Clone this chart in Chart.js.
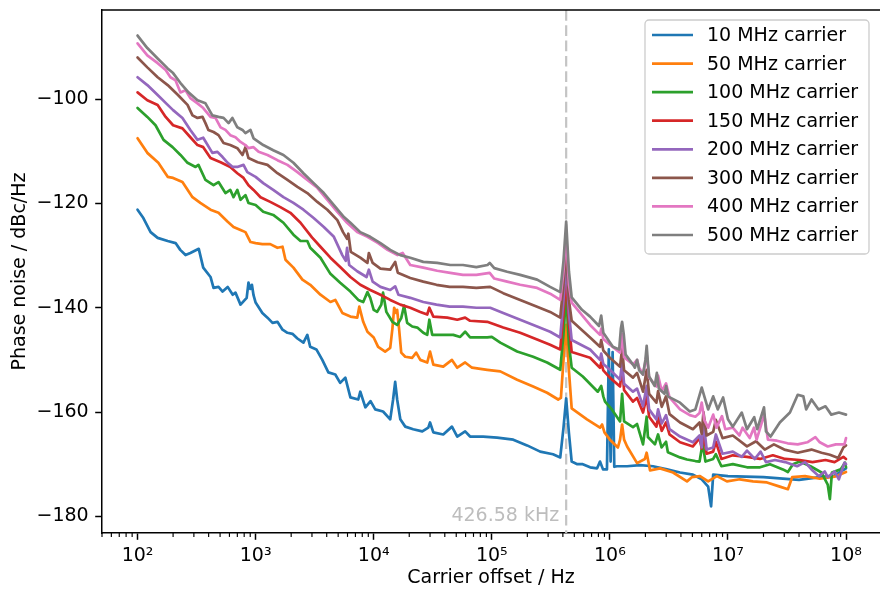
<!DOCTYPE html>
<html>
<head>
<meta charset="utf-8">
<title>Phase noise vs carrier offset</title>
<script src="https://cdn.jsdelivr.net/npm/chart.js@4.4.1/dist/chart.umd.min.js"></script>
<style>
  html, body { margin: 0; padding: 0; background: #fff; }
  #wrap { width: 880px; height: 591px; }
</style>
</head>
<body>
<div id="wrap"><canvas id="pnChart" width="880" height="591"></canvas></div>
<script>
// ---- data: [offset Hz, phase noise dBc/Hz] ----
const carrier10 = [[100,-121.2],[112,-122.8],[129,-125.5],[148,-126.6],[180,-127.2],[210,-127.6],[230,-128.9],[255,-129.9],[280,-129.5],[330,-128.7],
  [360,-132.3],[415,-134.1],[440,-136.2],[485,-136.0],[525,-136.9],[580,-136.0],[640,-137.5],[675,-137.1],[745,-139.4],[840,-138.1],
  [870,-135.2],[900,-136.4],[930,-135.6],[960,-137.6],[1000,-139.0],[1140,-141.0],[1260,-141.9],[1390,-142.9],[1530,-142.7],[1690,-144.2],
  [1860,-144.8],[2050,-145.0],[2260,-145.9],[2540,-146.7],[2740,-145.2],[2900,-147.5],[3270,-148.0],[3670,-150.0],[4130,-152.4],[4730,-152.8],
  [5200,-154.4],[5750,-153.4],[6350,-157.2],[7400,-157.6],[7700,-156.1],[8500,-159.1],[9400,-157.9],[10300,-159.5],[12000,-159.9],[13800,-161.4],
  [14600,-157.6],[15200,-154.2],[15800,-157.6],[16800,-161.4],[18500,-162.8],[21600,-163.3],[25800,-163.7],[29000,-163.0],[30000,-162.0],[32000,-163.9],
  [38800,-164.3],[46000,-162.8],[51000,-164.7],[59500,-163.7],[65500,-164.7],[84500,-164.7],[111000,-164.9],[152000,-165.3],[199000,-166.4],[257000,-167.6],
  [330000,-168.1],[380000,-168.7],[405000,-163.0],[426580,-157.4],[450000,-164.0],[475000,-169.5],[530000,-170.0],[590000,-170.0],[680000,-170.6],[780000,-170.8],
  [825000,-169.5],[875000,-171.0],[945000,-171.0],[980000,-148.0],[1015000,-169.5],[1055000,-148.5],[1090000,-170.5],[1150000,-170.4],[1400000,-170.4],[1800000,-170.2],
  [2320000,-170.4],[3050000,-171.0],[3930000,-171.6],[5050000,-172.0],[6000000,-172.9],[6800000,-174.3],[7200000,-178.1],[7500000,-172.0],[1e7,-172.3],[2e7,-172.5],
  [4e7,-173.0],[6e7,-172.5],[8e7,-172.2],[1e8,-170.8]];

const carrier50 = [[100,-107.5],[121,-110.3],[150,-112.2],[180,-114.9],[200,-115.1],[240,-115.9],[292,-118.8],[340,-119.9],[415,-121.2],[485,-121.8],
  [580,-123.5],[650,-124.5],[745,-125.1],[820,-125.5],[905,-127.4],[1000,-127.6],[1140,-127.8],[1330,-127.8],[1530,-128.5],[1690,-128.3],
  [1790,-130.8],[2090,-132.3],[2490,-134.6],[2900,-135.6],[3540,-137.5],[4300,-138.9],[4730,-138.5],[5420,-141.0],[6350,-141.7],[7250,-141.9],
  [7550,-139.8],[8150,-142.7],[8850,-144.6],[10000,-145.7],[10900,-147.5],[12500,-148.4],[13800,-147.7],[14400,-144.0],[14900,-140.0],[15500,-141.0],
  [15800,-140.4],[16400,-144.0],[17100,-148.6],[18500,-149.4],[21200,-149.6],[22900,-148.6],[24800,-150.0],[28400,-150.5],[30000,-148.4],[32000,-150.9],
  [38800,-151.3],[46000,-150.0],[51000,-151.5],[59500,-150.5],[68000,-151.5],[91500,-151.9],[118000,-152.2],[164000,-153.8],[224000,-155.1],[294000,-156.3],
  [365000,-157.6],[385000,-157.3],[405000,-150.0],[426580,-143.3],[450000,-152.0],[475000,-159.3],[640000,-161.4],[825000,-163.0],[860000,-162.4],[900000,-163.9],
  [1000000,-165.3],[1170000,-166.8],[1220000,-165.3],[1270000,-162.4],[1320000,-165.3],[1400000,-166.6],[1700000,-169.8],[1980000,-169.0],[2050000,-167.8],[2190000,-171.2],
  [2660000,-170.8],[3430000,-171.6],[4500000,-173.3],[4950000,-172.5],[5800000,-172.3],[6800000,-173.3],[8070000,-172.3],[9800000,-173.3],[12600000,-172.9],[16300000,-173.3],
  [21400000,-173.5],[27500000,-174.3],[32200000,-174.8],[35000000,-172.5],[45000000,-172.3],[6e7,-172.8],[8e7,-172.4],[1e8,-171.5]];

const carrier100 = [[100,-101.7],[121,-103.4],[142,-105.0],[166,-107.8],[198,-109.2],[231,-110.7],[265,-112.2],[310,-113.0],[328,-112.6],[376,-115.5],
  [440,-116.5],[485,-115.9],[555,-118.0],[610,-117.4],[650,-118.8],[700,-117.4],[745,-119.3],[820,-118.4],[870,-119.9],[1000,-120.3],
  [1160,-121.6],[1410,-122.2],[1720,-123.7],[2090,-126.0],[2400,-127.2],[2740,-127.2],[2900,-128.5],[3540,-130.4],[4300,-133.5],[5200,-135.2],
  [6350,-136.9],[7400,-138.5],[8150,-138.9],[8850,-137.0],[9350,-138.1],[10000,-140.4],[10700,-140.8],[11600,-139.4],[12000,-137.1],[12800,-140.8],
  [14400,-142.7],[15800,-143.3],[17100,-142.0],[18100,-139.6],[19200,-142.9],[21200,-143.6],[23400,-143.8],[26300,-144.8],[28400,-145.2],[29600,-142.3],
  [31300,-145.2],[38800,-145.2],[47200,-145.2],[54000,-145.6],[59500,-144.6],[65500,-145.7],[91500,-145.7],[100000,-145.6],[118000,-146.7],[164000,-148.4],
  [224000,-149.4],[294000,-150.5],[380000,-151.9],[405000,-145.0],[426580,-137.1],[450000,-147.0],[475000,-151.5],[590000,-153.2],[790000,-156.1],[845000,-155.0],
  [880000,-157.0],[910000,-158.0],[1040000,-159.5],[1220000,-161.8],[1270000,-156.5],[1320000,-161.8],[1570000,-162.9],[1700000,-162.3],[1910000,-166.2],[2050000,-160.9],
  [2100000,-164.8],[2410000,-166.2],[2560000,-164.3],[2740000,-166.8],[2990000,-165.7],[3100000,-167.7],[3930000,-168.7],[4500000,-169.1],[5300000,-169.4],[5750000,-169.5],
  [6100000,-166.0],[6450000,-169.5],[7500000,-169.0],[7900000,-168.1],[8800000,-170.4],[11000000,-170.0],[14500000,-170.6],[18700000,-170.6],[22700000,-170.0],[29200000,-171.0],
  [32200000,-171.5],[35500000,-170.0],[40500000,-169.5],[50000000,-170.4],[62000000,-171.6],[70000000,-173.9],[73000000,-176.7],[76000000,-171.6],[90000000,-171.0],[98000000,-169.7],
  [1e8,-170.6]];

const carrier150 = [[100,-98.7],[121,-100.2],[148,-101.1],[173,-103.4],[200,-105.0],[240,-105.6],[280,-107.3],[322,-108.8],[360,-109.2],[415,-111.3],
  [505,-112.1],[610,-113.0],[700,-114.2],[790,-115.1],[870,-116.5],[960,-117.4],[1100,-118.8],[1330,-119.7],[1620,-120.7],[1970,-121.8],
  [2400,-123.7],[3000,-126.5],[3540,-128.3],[4300,-130.4],[5200,-132.2],[6350,-134.1],[7700,-135.6],[9350,-136.6],[11400,-137.5],[13800,-138.5],
  [16800,-139.4],[20400,-140.0],[24800,-140.8],[28400,-141.3],[29600,-140.0],[32000,-141.7],[42000,-141.9],[51000,-142.3],[59500,-141.9],[65500,-142.5],
  [91500,-142.7],[125000,-143.8],[174000,-144.8],[242000,-146.1],[312000,-147.1],[380000,-148.0],[405000,-141.0],[426580,-134.0],[450000,-143.0],[475000,-148.5],
  [680000,-149.6],[825000,-151.5],[845000,-150.5],[880000,-152.0],[1000000,-153.4],[1220000,-155.1],[1270000,-151.5],[1320000,-155.8],[1570000,-158.0],[1700000,-157.3],
  [1910000,-160.1],[2050000,-157.0],[2150000,-160.9],[2480000,-162.8],[2560000,-161.0],[2750000,-163.6],[2990000,-162.0],[3200000,-164.3],[3930000,-165.8],[5050000,-166.6],
  [5750000,-165.0],[6000000,-167.0],[6200000,-164.0],[6600000,-168.0],[7500000,-167.6],[7900000,-165.7],[8800000,-169.0],[11000000,-168.3],[14500000,-168.6],[18700000,-169.0],
  [24000000,-168.3],[30500000,-169.0],[40500000,-169.2],[52000000,-169.6],[67000000,-169.2],[80000000,-169.6],[95000000,-168.6],[1e8,-169.0]];

const carrier200 = [[100,-95.8],[121,-97.3],[148,-99.2],[180,-101.1],[200,-102.1],[240,-103.6],[280,-105.9],[322,-107.8],[360,-107.4],[430,-110.3],
  [475,-110.1],[525,-111.1],[580,-112.2],[640,-113.0],[700,-113.0],[790,-112.6],[850,-114.0],[1000,-114.9],[1160,-116.1],[1410,-117.4],
  [1720,-118.8],[2090,-119.9],[2540,-121.2],[3100,-122.8],[3780,-124.5],[4600,-126.4],[5420,-129.9],[5800,-131.0],[5950,-128.5],[6200,-131.8],
  [7250,-133.0],[8700,-134.1],[9100,-132.7],[9800,-135.0],[11400,-136.0],[13800,-136.6],[15200,-135.9],[16200,-137.5],[20400,-138.1],[26300,-138.9],
  [34000,-139.4],[44000,-139.8],[57000,-139.8],[74000,-140.0],[97000,-140.0],[125000,-141.0],[174000,-142.3],[242000,-143.6],[312000,-144.6],[380000,-145.7],
  [405000,-138.5],[426580,-131.0],[450000,-141.0],[475000,-146.2],[680000,-148.0],[825000,-150.0],[845000,-148.8],[880000,-150.8],[1000000,-151.9],[1220000,-153.8],
  [1270000,-150.5],[1320000,-154.6],[1570000,-156.1],[1700000,-155.5],[1910000,-158.9],[2050000,-155.0],[2150000,-159.5],[2480000,-161.4],[2560000,-159.5],[2750000,-162.2],
  [2990000,-160.6],[3200000,-163.3],[3930000,-164.7],[5050000,-165.8],[5750000,-164.5],[6000000,-166.8],[6200000,-161.5],[6600000,-167.2],[7500000,-166.8],[7900000,-164.3],
  [9000000,-168.0],[11000000,-167.6],[13100000,-168.6],[14500000,-167.4],[16900000,-169.0],[18900000,-167.6],[21000000,-169.6],[25000000,-169.2],[30500000,-169.6],[38500000,-170.4],
  [45000000,-169.6],[51000000,-171.0],[59000000,-172.3],[66000000,-171.4],[70000000,-172.5],[80000000,-171.4],[87000000,-172.9],[97000000,-169.7],[1e8,-170.0]];

const carrier300 = [[100,-92.0],[121,-93.9],[148,-95.8],[180,-97.3],[220,-99.2],[265,-101.1],[292,-103.1],[322,-103.6],[355,-103.4],[376,-104.6],
  [398,-105.9],[440,-106.3],[485,-106.9],[535,-108.4],[610,-108.8],[700,-109.4],[774,-110.7],[820,-109.2],[870,-111.3],[1040,-112.1],
  [1260,-112.6],[1530,-114.2],[1860,-115.5],[2260,-116.8],[2740,-118.0],[3330,-119.7],[4050,-121.2],[4920,-123.2],[5500,-125.5],[5950,-126.8],
  [6100,-125.8],[6400,-129.3],[7700,-130.4],[8850,-131.4],[9100,-129.5],[9800,-131.4],[11400,-132.5],[13800,-132.7],[15200,-131.2],[16000,-133.3],
  [20400,-134.3],[26300,-135.0],[34000,-135.6],[44000,-136.0],[57000,-136.0],[74000,-136.2],[97000,-136.0],[125000,-137.2],[174000,-138.5],[242000,-139.8],
  [312000,-140.8],[380000,-141.9],[405000,-135.5],[426580,-128.5],[450000,-138.5],[475000,-142.5],[680000,-145.7],[825000,-147.5],[845000,-146.2],[880000,-148.2],
  [1000000,-149.6],[1220000,-151.3],[1270000,-147.8],[1320000,-152.0],[1570000,-153.4],[1700000,-152.5],[1910000,-156.1],[2050000,-151.9],[2150000,-156.5],[2480000,-158.2],
  [2560000,-156.0],[2750000,-159.0],[2990000,-157.0],[3200000,-160.4],[3930000,-162.0],[5050000,-163.3],[5750000,-162.0],[6000000,-164.2],[6200000,-160.0],[6600000,-164.5],
  [7500000,-163.8],[7900000,-161.5],[9000000,-165.0],[11000000,-164.5],[14500000,-166.6],[17300000,-165.6],[20500000,-167.2],[24500000,-166.2],[30000000,-167.2],[39000000,-167.8],
  [51000000,-167.2],[62000000,-167.8],[73000000,-168.2],[86000000,-168.8],[95000000,-166.8],[1e8,-166.4]];

const carrier400 = [[100,-89.3],[121,-91.6],[148,-93.1],[173,-94.4],[190,-95.8],[210,-96.4],[231,-98.7],[255,-98.3],[280,-99.8],[322,-100.8],
  [360,-101.7],[415,-103.4],[457,-103.6],[505,-105.4],[555,-105.9],[610,-106.9],[675,-107.3],[745,-108.2],[820,-108.8],[870,-109.4],
  [960,-109.2],[1060,-110.1],[1260,-110.7],[1530,-111.7],[1860,-112.6],[2260,-114.0],[2740,-115.5],[3330,-117.0],[4050,-119.3],[4920,-121.6],
  [5950,-123.7],[7250,-125.5],[8850,-126.4],[10900,-127.6],[13100,-128.9],[15900,-129.9],[17600,-129.5],[20400,-131.8],[26300,-132.3],[34500,-132.9],
  [44500,-133.3],[57000,-133.7],[74000,-133.7],[96000,-133.3],[105000,-134.4],[135000,-135.0],[174000,-135.6],[242000,-136.2],[312000,-137.3],[380000,-138.5],
  [405000,-133.0],[426580,-126.0],[450000,-135.5],[475000,-139.0],[680000,-143.3],[825000,-145.2],[845000,-144.0],[880000,-146.0],[1000000,-147.1],[1220000,-148.6],
  [1270000,-145.0],[1320000,-149.5],[1570000,-150.9],[1700000,-150.0],[1770000,-151.5],[1910000,-152.8],[2050000,-149.0],[2150000,-153.4],[2480000,-155.1],[2560000,-153.0],
  [2750000,-156.0],[2990000,-154.5],[3200000,-157.2],[3930000,-159.5],[4750000,-160.6],[5300000,-160.9],[5750000,-160.2],[6000000,-158.2],[6300000,-161.5],[6800000,-163.0],
  [7500000,-160.5],[8000000,-163.0],[8900000,-160.8],[9500000,-163.3],[11000000,-163.0],[12500000,-164.5],[13300000,-163.0],[15300000,-165.0],[16600000,-163.0],[17500000,-165.3],
  [20300000,-160.5],[21800000,-165.3],[26000000,-165.5],[32000000,-166.0],[39000000,-166.2],[47000000,-165.8],[55000000,-164.8],[60000000,-165.8],[70000000,-166.6],[82000000,-166.2],
  [97000000,-166.2],[1e8,-165.0]];

const carrier500 = [[100,-87.8],[121,-90.2],[148,-92.2],[180,-94.1],[200,-95.0],[231,-96.9],[270,-98.7],[322,-100.2],[376,-100.8],[430,-103.1],
  [485,-103.4],[535,-103.6],[590,-104.6],[635,-103.6],[700,-105.4],[774,-105.9],[820,-106.5],[905,-105.9],[960,-107.5],[1160,-108.8],
  [1410,-109.8],[1720,-110.7],[2090,-112.2],[2540,-114.2],[3100,-116.1],[3780,-118.0],[4600,-120.3],[5600,-122.6],[6350,-123.7],[7700,-125.5],
  [9350,-126.4],[11400,-127.6],[13800,-128.9],[16800,-129.9],[20400,-130.4],[26300,-131.2],[34500,-131.4],[44500,-131.8],[57000,-131.8],[74000,-132.2],
  [92000,-131.8],[96000,-131.4],[105000,-132.4],[135000,-133.1],[174000,-133.7],[242000,-134.6],[312000,-136.0],[380000,-137.0],[405000,-131.0],[426580,-123.5],
  [450000,-133.0],[475000,-138.0],[580000,-140.4],[680000,-141.7],[810000,-143.5],[845000,-141.5],[880000,-144.8],[1060000,-147.5],[1200000,-148.0],[1240000,-144.0],
  [1270000,-142.7],[1310000,-145.0],[1360000,-149.0],[1570000,-150.9],[1630000,-151.5],[1700000,-150.0],[1770000,-152.0],[1910000,-152.8],[2000000,-150.0],[2050000,-147.3],
  [2100000,-150.5],[2150000,-153.2],[2400000,-155.0],[2500000,-152.5],[2600000,-155.5],[2900000,-156.5],[3000000,-155.0],[3100000,-157.0],[3930000,-158.2],[4750000,-159.9],
  [5300000,-159.5],[6000000,-155.3],[6800000,-159.5],[7500000,-157.0],[8200000,-159.5],[9100000,-157.2],[10000000,-161.4],[11000000,-162.8],[13100000,-160.1],[14500000,-163.3],
  [16700000,-161.0],[17700000,-163.3],[20200000,-159.1],[21000000,-163.7],[23000000,-164.7],[27500000,-162.0],[30500000,-161.0],[33500000,-160.1],[39000000,-156.7],[43500000,-157.0],
  [46000000,-159.5],[51000000,-157.6],[58500000,-159.5],[67000000,-158.9],[75000000,-160.5],[87000000,-160.1],[1e8,-160.5]];

const seriesList = [carrier10, carrier50, carrier100, carrier150, carrier200, carrier300, carrier400, carrier500];
const seriesNames = ['10 MHz carrier', '50 MHz carrier', '100 MHz carrier', '150 MHz carrier',
                     '200 MHz carrier', '300 MHz carrier', '400 MHz carrier', '500 MHz carrier'];
const seriesColors = ['#1f77b4', '#ff7f0e', '#2ca02c', '#d62728', '#9467bd', '#8c564b', '#e377c2', '#7f7f7f'];

const xTicks = [1e2, 1e3, 1e4, 1e5, 1e6, 1e7, 1e8];
const xTickLabels = ['10\u00b2', '10\u00b3', '10\u2074', '10\u2075', '10\u2076', '10\u2077', '10\u2078'];
const yTicks = [-180, -160, -140, -120, -100];
const markerFreq = 426580;
const markerText = '426.58 kHz';

const FONT = '"DejaVu Sans", "Liberation Sans", sans-serif';

// extra drawing: marker line + label, top spine, minor x ticks, legend
const extras = {
  id: 'extras',
  beforeDatasetsDraw(chart) {
    const { ctx, chartArea: a, scales: { x, y } } = chart;
    const px = x.getPixelForValue(markerFreq);
    ctx.save();
    ctx.strokeStyle = '#c4c4c4';
    ctx.lineWidth = 2.2;
    ctx.setLineDash([10.7, 4.6]);
    ctx.beginPath();
    ctx.moveTo(px, a.top);
    ctx.lineTo(px, a.bottom);
    ctx.stroke();
    ctx.setLineDash([]);
    ctx.fillStyle = '#bdbdbd';
    ctx.font = '19px ' + FONT;
    ctx.textAlign = 'right';
    ctx.textBaseline = 'middle';
    ctx.fillText(markerText, px - 7, y.getPixelForValue(-180));
    ctx.restore();
  },
  afterDraw(chart) {
    const { ctx, chartArea: a, scales: { x } } = chart;
    ctx.save();
    // top spine
    ctx.strokeStyle = '#000';
    ctx.lineWidth = 1.5;
    ctx.beginPath();
    ctx.moveTo(a.left - 0.75, a.top);
    ctx.lineTo(a.right, a.top);
    ctx.stroke();
    // minor ticks on the log axis
    ctx.lineWidth = 1.15;
    for (let dec = 1e1; dec <= 1e8; dec *= 10) {
      for (let m = 2; m <= 9; m++) {
        const v = m * dec;
        if (v < x.min || v > x.max) continue;
        const px = x.getPixelForValue(v);
        ctx.beginPath();
        ctx.moveTo(px, a.bottom);
        ctx.lineTo(px, a.bottom + 3.9);
        ctx.stroke();
      }
    }
    // legend
    const bx = 645, by = 20, bw = 224, bh = 234;
    ctx.beginPath();
    ctx.roundRect(bx, by, bw, bh, 4);
    ctx.fillStyle = 'rgba(255,255,255,0.8)';
    ctx.fill();
    ctx.strokeStyle = '#cccccc';
    ctx.lineWidth = 1.3;
    ctx.stroke();
    ctx.font = '19px ' + FONT;
    ctx.textAlign = 'left';
    ctx.textBaseline = 'middle';
    seriesNames.forEach((name, i) => {
      const ry = 35 + i * 28.57;
      ctx.strokeStyle = seriesColors[i];
      ctx.lineWidth = 2.7;
      ctx.beginPath();
      ctx.moveTo(652, ry);
      ctx.lineTo(693, ry);
      ctx.stroke();
      ctx.fillStyle = '#000';
      ctx.fillText(name, 707, ry + 1);
    });
    ctx.restore();
  }
};

new Chart(document.getElementById('pnChart'), {
  type: 'line',
  data: {
    datasets: seriesList.map((s, i) => ({
      label: seriesNames[i],
      data: s.map(p => ({ x: p[0], y: p[1] })),
      borderColor: seriesColors[i],
      backgroundColor: seriesColors[i],
      borderWidth: 2.7,
      borderJoinStyle: 'round',
      borderCapStyle: 'round',
      pointRadius: 0,
      tension: 0,
      fill: false,
      order: seriesList.length - i
    }))
  },
  options: {
    responsive: false,
    animation: false,
    devicePixelRatio: 1,
    layout: { padding: { top: 10, right: 0, left: 0, bottom: 0 } },
    plugins: { legend: { display: false }, tooltip: { enabled: false } },
    scales: {
      x: {
        type: 'logarithmic',
        min: 50,
        max: 1.94e8,
        afterBuildTicks: s => { s.ticks = xTicks.map(v => ({ value: v, major: true })); },
        afterFit: s => { s.height = 58; s.paddingLeft = 0; s.paddingRight = 0; },
        ticks: {
          autoSkip: false,
          maxRotation: 0,
          color: '#000',
          padding: 5,
          font: { family: FONT, size: 19 },
          callback: (v) => xTickLabels[xTicks.indexOf(v)] || ''
        },
        grid: { display: true, drawOnChartArea: false, drawTicks: true, tickLength: 6.8, tickWidth: 1.5, tickColor: '#000' },
        border: { display: true, color: '#000', width: 1.5 },
        title: { display: true, text: 'Carrier offset / Hz', color: '#000', font: { family: FONT, size: 19 }, padding: { top: 0, bottom: 1.5 } }
      },
      y: {
        type: 'linear',
        min: -183.2,
        max: -82.9,
        afterBuildTicks: s => { s.ticks = yTicks.map(v => ({ value: v })); },
        afterFit: s => { s.width = 102; s.paddingTop = 0; s.paddingBottom = 0; },
        ticks: {
          color: '#000',
          padding: 6.5,
          font: { family: FONT, size: 19 },
          callback: (v) => (v < 0 ? '\u2212' : '') + Math.abs(v)
        },
        grid: { display: true, drawOnChartArea: false, drawTicks: true, tickLength: 6.8, tickWidth: 1.5, tickColor: '#000' },
        border: { display: true, color: '#000', width: 1.5 },
        title: { display: true, text: 'Phase noise / dBc/Hz', color: '#000', font: { family: FONT, size: 19 }, padding: { top: 9, bottom: 0 } }
      }
    }
  },
  plugins: [extras]
});
</script>
</body>
</html>
